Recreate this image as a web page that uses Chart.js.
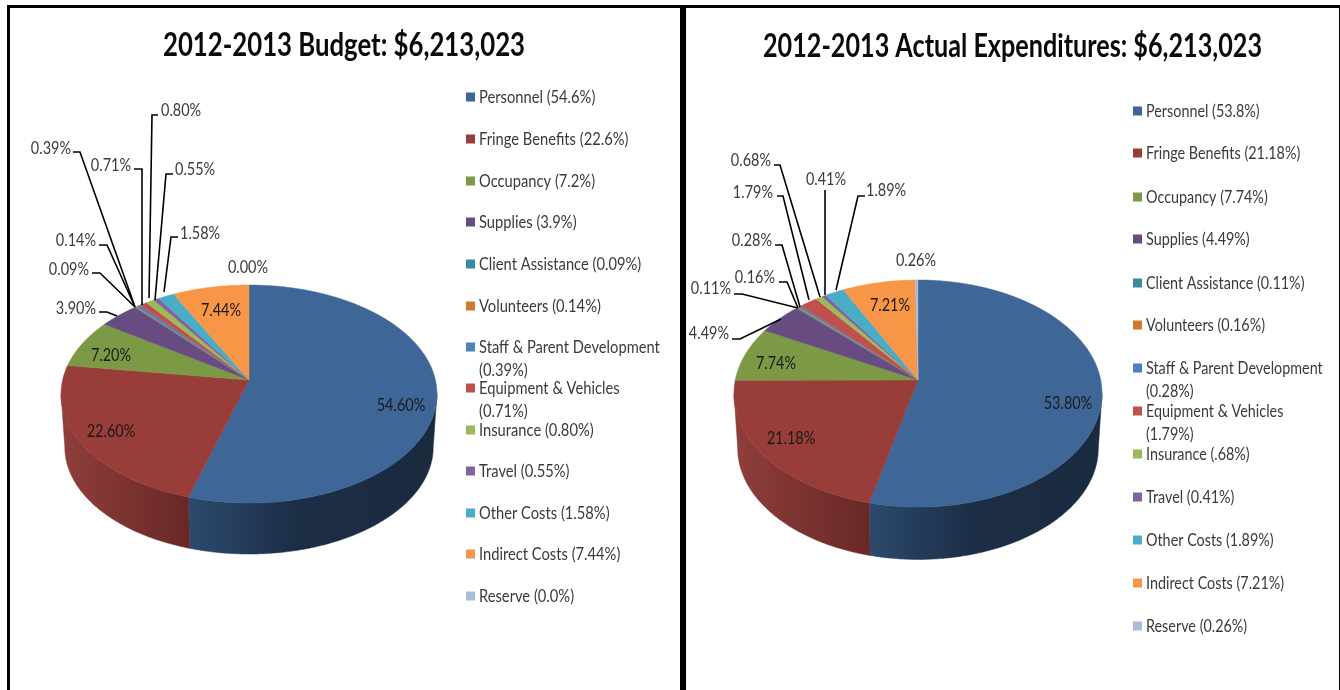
<!DOCTYPE html>
<html><head><meta charset="utf-8">
<script src="https://cdn.jsdelivr.net/npm/chart.js@4/dist/chart.umd.min.js"></script>
<style>
html,body{margin:0;padding:0;background:#fff;overflow:hidden}
#stage{position:relative;width:1340px;height:690px;background:#fff}
canvas{position:absolute;top:0}
.rule{position:absolute;background:#000}
</style></head><body>
<div id="stage">
<canvas id="c1" width="680" height="690" style="left:0"></canvas>
<canvas id="c2" width="654" height="690" style="left:686px"></canvas>
<div class="rule" style="left:7px;top:5px;width:1333px;height:3px"></div>
<div class="rule" style="left:7px;top:5px;width:3px;height:685px"></div>
<div class="rule" style="left:680px;top:5px;width:6px;height:685px"></div>
<div class="rule" style="left:1339px;top:5px;width:1px;height:685px"></div>
</div>
<script>
const categories = ["Personnel","Fringe Benefits","Occupancy","Supplies","Client Assistance","Volunteers","Staff & Parent Development","Equipment & Vehicles","Insurance","Travel","Other Costs","Indirect Costs","Reserve"];
const budgetValues = [54.6,22.6,7.2,3.9,0.09,0.14,0.39,0.71,0.8,0.55,1.58,7.44,0];
const actualValues = [53.8,21.18,7.74,4.49,0.11,0.16,0.28,1.79,0.68,0.41,1.89,7.21,0.26];
const budgetTitle = "2012-2013 Budget: $6,213,023";
const actualTitle = "2012-2013 Actual Expenditures: $6,213,023";
const budgetLegendText = ["(54.6%)","(22.6%)","(7.2%)","(3.9%)","(0.09%)","(0.14%)","(0.39%)","(0.71%)","(0.80%)","(0.55%)","(1.58%)","(7.44%)","(0.0%)"];
const actualLegendText = ["(53.8%)","(21.18%)","(7.74%)","(4.49%)","(0.11%)","(0.16%)","(0.28%)","(1.79%)","(.68%)","(0.41%)","(1.89%)","(7.21%)","(0.26%)"];
const sliceColors = ["#3e6797","#983d3a","#7c9a45","#664c81","#378ba3","#cf7b2e","#4f81bd","#c0504d","#9bbb59","#8064a2","#4bacc6","#f79646","#a9bcdb"];

// Layout of each panel, in page pixels.
const budgetLayout = {
  offsetX:0, titleX:344, titleY:45, titleW:362, legendSx:0.865,
  apexX:249, apexY:380, rx:186.4, ryTop:95, ryBottom:123, wallTopY:433.5, wallScale:0.98,
  legendMarkX:466, legendTextX:479, legendY:[97,139,181,222,264,306,347,388,430,471,513,554,596],
  labels:[
    [401,405,"c"],[111,431,"c"],[111,355,"c"],[96,308,"r"],[89,269,"r"],[96,240,"r"],[71,148,"r"],[131,165,"r"],[161,110,"l"],[175,169,"l"],[180,233,"l"],[221,310,"c"],[248,267,"c"]
  ],
  leaders:[
    null,null,null,
    [[117,316],[107,312],[99,312]],
    [[135,307],[100,273],[92,273]],
    [[135,307],[107,245],[99,245]],
    [[135,307],[80,152],[73,152]],
    [[142,305],[142,169],[134,169]],
    [[149,298],[152,115],[158,115]],
    [[155,300],[166,174],[173,174]],
    [[164,292],[171,237],[178,237]],
    null,null
  ]
};
const actualLayout = {
  offsetX:686, titleX:1012.5, titleY:46, titleW:499, legendSx:0.845,
  apexX:918, apexY:380, rx:182.7, ryTop:100, ryBottom:127, wallTopY:435, wallScale:0.98,
  legendMarkX:1133, legendTextX:1146, legendY:[111,153,197,239,283,325,368,411,454,497,540,583,626],
  labels:[
    [1068,403,"c"],[791,438,"c"],[776,363,"c"],[729,333,"r"],[731,288,"r"],[775,277,"r"],[772,240,"r"],[773,192,"r"],[771,160,"r"],[826,179,"c"],[866,190,"l"],[890,305,"c"],[916,260,"c"]
  ],
  leaders:[
    null,null,null,
    [[781,319],[740,339],[732,339]],
    [[798,308],[742,294],[734,294]],
    [[798,308],[787,282],[779,282]],
    [[800,307],[782,245],[775,245]],
    [[809,300],[783,196],[777,196]],
    [[820,297],[780,165],[774,165]],
    [[825,295],[825,190]],
    [[836,290],[858,196],[865,196]],
    null,null
  ]
};

const FONT = "Lato, Carlito, Calibri, sans-serif";
const LABEL_SX = 0.85;
const TEXT_DY = 1;

function tiltK(g){ return (g.ryBottom-g.ryTop)/(g.ryBottom+g.ryTop); }
function project(g, t, wall){
  const k = tiltK(g);
  const A = g.ryBottom*(1-k);
  const u = Math.cos(t), v = Math.sin(t), d = 1-k*v;
  if(wall){
    return [g.apexX + g.wallScale*g.rx*u/d, g.wallTopY + g.wallScale*A*v/d];
  }
  return [g.apexX + g.rx*u/d, g.apexY + A*v/d];
}
function arcPoints(g, a0, a1, wall){
  const n = Math.max(2, Math.ceil(Math.abs(a1-a0)/0.01)), pts=[];
  for(let i=0;i<=n;i++) pts.push(project(g, a0+(a1-a0)*i/n, wall));
  return pts;
}
function trace(ctx, pts, ox){
  pts.forEach((p,i)=> i ? ctx.lineTo(p[0]-ox,p[1]) : ctx.moveTo(p[0]-ox,p[1]));
}
function trace2(ctx, pts, ox){ pts.forEach(p=>ctx.lineTo(p[0]-ox,p[1])); }

// The library's arc elements keep their angles but paint on the tilted surface.
const baseArcDraw = Chart.ArcElement.prototype.draw;
Chart.ArcElement.prototype.draw = function(ctx){
  const g = this.$tilt;
  if(!g) return baseArcDraw.call(this, ctx);
  if(this.endAngle - this.startAngle <= 0) return;
  ctx.save();
  ctx.beginPath();
  ctx.moveTo(g.apexX-g.offsetX, g.apexY);
  trace2(ctx, arcPoints(g,this.startAngle,this.endAngle,false), g.offsetX);
  ctx.closePath();
  ctx.fillStyle = this.options.backgroundColor;
  ctx.strokeStyle = this.options.backgroundColor;
  ctx.lineWidth = 0.5;
  ctx.fill(); ctx.stroke();
  ctx.restore();
};

function shade(i, ctx, x0, x1, ox){
  const gr = ctx.createLinearGradient(x0-ox,0,x1-ox,0);
  if(i===0){
    gr.addColorStop(0,"#2b4a6d"); gr.addColorStop(0.45,"#1c2d45"); gr.addColorStop(1,"#1a2b40");
  } else if(i===1){
    gr.addColorStop(0,"#8f3e3b"); gr.addColorStop(1,"#682826");
  } else {
    gr.addColorStop(0,sliceColors[i]); gr.addColorStop(1,sliceColors[i]);
  }
  return gr;
}
function drawScaled(ctx, text, x, y, align, sx){
  ctx.save();
  ctx.translate(x,y+TEXT_DY);
  ctx.scale(sx,1);
  ctx.textAlign = align; ctx.textBaseline = "middle";
  ctx.fillText(text,0,0);
  ctx.restore();
}
function piePlugin(g, title, legendText){
  return {
    id:"tiltedPie",
    beforeDatasetsDraw(chart){
      const ctx = chart.ctx, ox = g.offsetX;
      const arcs = chart.getDatasetMeta(0).data;
      const t1 = Math.asin(tiltK(g)), t2 = Math.PI - t1;
      arcs.forEach((el,i)=>{
        el.$tilt = g;
        const a0 = Math.max(el.startAngle,t1), a1 = Math.min(el.endAngle,t2);
        if(a1-a0<=0) return;
        const top = arcPoints(g,a0,a1,false);
        const low = arcPoints(g,a0,a1,true).reverse();
        const xs = top.concat(low).map(p=>p[0]);
        const x0 = Math.min(...xs), x1 = Math.max(...xs);
        ctx.save();
        ctx.beginPath(); trace(ctx, top, ox); trace2(ctx, low, ox); ctx.closePath();
        const fill = shade(i,ctx,x0,x1,ox);
        ctx.fillStyle = fill; ctx.strokeStyle = fill; ctx.lineWidth=0.5;
        ctx.fill(); ctx.stroke();
        ctx.restore();
      });
    },
    afterDraw(chart){
      const ctx = chart.ctx, ox = g.offsetX;
      ctx.save();
      // title
      ctx.fillStyle = "#0a0a0a";
      ctx.font = "bold 33px "+FONT;
      const tw = ctx.measureText(title).width;
      ctx.save();
      ctx.translate(0,-TEXT_DY);
      drawScaled(ctx, title, g.titleX-ox, g.titleY, "center", g.titleW/tw);
      ctx.restore();
      // leader lines
      ctx.strokeStyle = "#000"; ctx.lineWidth = 1.6; ctx.lineJoin="miter";
      g.leaders.forEach(l=>{
        if(!l) return;
        ctx.beginPath(); trace(ctx,l,ox); ctx.stroke();
      });
      // value labels
      const data = chart.data.datasets[0].data;
      ctx.font = "17px "+FONT;
      g.labels.forEach((p,i)=>{
        const inside = !g.leaders[i] && i!==12;
        ctx.fillStyle = inside ? "#1a1a1a" : "#3a3a3a";
        const al = p[2]==="c"?"center":p[2]==="l"?"left":"right";
        drawScaled(ctx, data[i].toFixed(2)+"%", p[0]-ox, p[1], al, LABEL_SX);
      });
      // legend
      chart.data.labels.forEach((name,i)=>{
        const y = g.legendY[i];
        ctx.fillStyle = sliceColors[i];
        ctx.fillRect(g.legendMarkX-ox, y-4.5, 9, 9);
        ctx.fillStyle = "#3a3a3a";
        ctx.font = "17px "+FONT;
        if(name==="Staff & Parent Development" || name==="Equipment & Vehicles"){
          drawScaled(ctx, name, g.legendTextX-ox, y, "left", g.legendSx);
          drawScaled(ctx, legendText[i], g.legendTextX-ox, y+23, "left", g.legendSx);
        } else {
          drawScaled(ctx, name+" "+legendText[i], g.legendTextX-ox, y, "left", g.legendSx);
        }
      });
      ctx.restore();
    }
  };
}
function makeChart(id, values, g, title, legendText){
  return new Chart(document.getElementById(id), {
    type:"pie",
    data:{labels:categories, datasets:[{data:values, backgroundColor:sliceColors, borderWidth:0}]},
    options:{
      responsive:false, animation:false,
      plugins:{legend:{display:false}, tooltip:{enabled:false}, title:{display:false}}
    },
    plugins:[piePlugin(g,title,legendText)]
  });
}
function start(){
  makeChart("c1", budgetValues, budgetLayout, budgetTitle, budgetLegendText);
  makeChart("c2", actualValues, actualLayout, actualTitle, actualLegendText);
}
if(document.fonts && document.fonts.load){
  Promise.all([document.fonts.load("17px Lato"),document.fonts.load("bold 33px Lato")]).then(start,start);
} else start();
</script>
</body></html>
